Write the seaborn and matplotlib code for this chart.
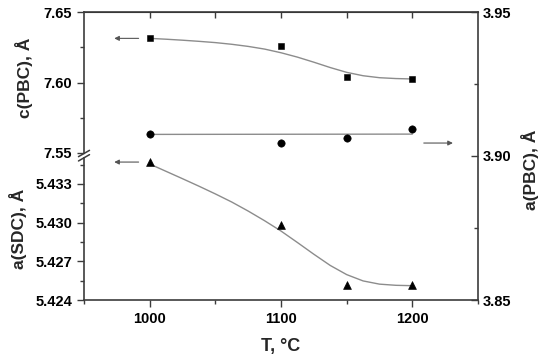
import matplotlib
matplotlib.use("Agg")
import matplotlib.pyplot as plt
from matplotlib.ticker import MultipleLocator, FormatStrFormatter
import seaborn as sns

# measured points
temps = [1000, 1100, 1150, 1200]
c_pbc = [7.6313, 7.6259, 7.6037, 7.6023]
a_pbc = [3.9075, 3.9046, 3.9064, 3.9095]
a_sdc = [5.43467, 5.42985, 5.42516, 5.42516]

# fitted curves
fit_t = [1000, 1012.5, 1025, 1037.5, 1050, 1062.5, 1075, 1087.5, 1100,
         1112.5, 1125, 1137.5, 1150, 1162.5, 1175, 1187.5, 1200]
c_pbc_fit = [7.6313, 7.6307, 7.6300, 7.6292, 7.6283, 7.6271, 7.6256, 7.6237, 7.6211,
             7.6180, 7.6144, 7.6106, 7.6072, 7.6048, 7.6034, 7.6028, 7.6025]
a_sdc_fit = [5.43455, 5.43398, 5.43341, 5.43283, 5.43223, 5.43160, 5.43090, 5.43015, 5.42935,
             5.42846, 5.42755, 5.42668, 5.42597, 5.42548, 5.42523, 5.42514, 5.42511]
a_pbc_fit_t = [1000, 1200]
a_pbc_fit = [3.9075, 3.9076]

sns.set_style("ticks")
plt.rcParams["font.family"] = ["Liberation Sans", "DejaVu Sans"]
plt.rcParams["font.weight"] = "bold"
plt.rcParams["axes.labelweight"] = "bold"

SPINE = "#3c3c3c"
FIT = "#8c8c8c"

fig = plt.figure(figsize=(5.5, 3.6), dpi=100)
L, R, T, B = 84 / 550, 478 / 550, 1 - 12 / 360, 1 - 300 / 360
W = R - L

# main frame: x axis + right axis a(PBC)
ax = fig.add_axes([L, B, W, T - B])
ax.set_xlim(950, 1250)
ax.set_ylim(3.85, 3.95)
ax.spines["left"].set_visible(False)
for s in ["top", "right", "bottom"]:
    ax.spines[s].set_color(SPINE)
    ax.spines[s].set_linewidth(1.2)
ax.yaxis.tick_right()
ax.yaxis.set_label_position("right")
ax.yaxis.set_major_locator(MultipleLocator(0.05))
ax.yaxis.set_minor_locator(MultipleLocator(0.025))
ax.yaxis.set_major_formatter(FormatStrFormatter("%.2f"))
ax.xaxis.set_major_locator(MultipleLocator(100))
ax.xaxis.set_minor_locator(MultipleLocator(50))
ax.tick_params(axis="y", which="both", direction="in", colors=SPINE, labelcolor="black", labelsize=10.5, width=1)
ax.tick_params(axis="y", which="major", length=5)
ax.tick_params(axis="y", which="minor", length=3)
ax.tick_params(axis="x", which="both", direction="out", colors=SPINE, labelcolor="black", labelsize=10.5, width=1)
ax.tick_params(axis="x", which="major", length=5)
ax.tick_params(axis="x", which="minor", length=3)
ax.set_xticks([1000, 1100, 1200])
ax.set_xlabel("T, °C", fontsize=13, labelpad=9)
ax.set_ylabel("a(PBC), Å", fontsize=12.5, rotation=90)
ax.yaxis.set_label_coords(1.109, 0.451)

top = ax.secondary_xaxis("top")
top.set_xticks([1000, 1050, 1100, 1150, 1200])
top.tick_params(direction="in", length=4, width=1, colors=SPINE, labeltop=False)

sns.lineplot(x=a_pbc_fit_t, y=a_pbc_fit, ax=ax, color=FIT, lw=1)
sns.scatterplot(x=temps, y=a_pbc, ax=ax, marker="o", color="black", s=28, edgecolor="black", zorder=3)
ax.annotate("", xy=(1233, 3.9045), xytext=(1206.6, 3.9045),
            arrowprops=dict(arrowstyle="-|>", color="#555555", lw=0.8, mutation_scale=7))


def left_part(bottom, top_, ylim, major, minor, fmt, label):
    a = fig.add_axes([L, bottom, W, top_ - bottom], sharex=ax)
    a.patch.set_alpha(0)
    for s in ["top", "right", "bottom"]:
        a.spines[s].set_visible(False)
    a.spines["left"].set_color(SPINE)
    a.spines["left"].set_linewidth(1.2)
    a.set_ylim(*ylim)
    a.yaxis.set_major_locator(MultipleLocator(major))
    a.yaxis.set_minor_locator(MultipleLocator(minor))
    a.yaxis.set_major_formatter(FormatStrFormatter(fmt))
    a.tick_params(axis="y", which="both", direction="out", colors=SPINE, labelcolor="black", labelsize=10.5, width=1)
    a.tick_params(axis="y", which="major", length=5)
    a.tick_params(axis="y", which="minor", length=3)
    a.xaxis.set_visible(False)
    a.set_ylabel(label, fontsize=12.5, labelpad=6)
    return a


ax_up = left_part(1 - 153 / 360, T, (7.55, 7.65), 0.05, 0.025, "%.2f", "c(PBC), Å")
ax_lo = left_part(B, 1 - 158.2 / 360, (5.424, 5.435), 0.003, 0.0015, "%.3f", "a(SDC), Å")
ax_up.yaxis.set_label_coords(-0.129, 0.535)

sns.lineplot(x=fit_t, y=c_pbc_fit, ax=ax_up, color=FIT, lw=1)
sns.scatterplot(x=temps, y=c_pbc, ax=ax_up, marker="s", color="black", s=24, edgecolor="black", zorder=3)
ax_up.annotate("", xy=(970.9, 7.6313), xytext=(993.7, 7.6313),
               arrowprops=dict(arrowstyle="-|>", color="#555555", lw=0.8, mutation_scale=7))

sns.lineplot(x=fit_t, y=a_sdc_fit, ax=ax_lo, color=FIT, lw=1)
sns.scatterplot(x=temps, y=a_sdc, ax=ax_lo, marker="^", color="black", s=32, edgecolor="black", zorder=3)
ax_lo.annotate("", xy=(970.9, 5.4347), xytext=(993.7, 5.4347),
               arrowprops=dict(arrowstyle="-|>", color="#555555", lw=0.8, mutation_scale=7))

# axis break marks
for yb in [(300 - 153.5) / 288, (300 - 157.8) / 288]:
    ax.plot([-0.014, 0.014], [yb - 0.011, yb + 0.011], transform=ax.transAxes,
            color=SPINE, lw=1.1, clip_on=False)

fig.savefig("out.png", dpi=100)
